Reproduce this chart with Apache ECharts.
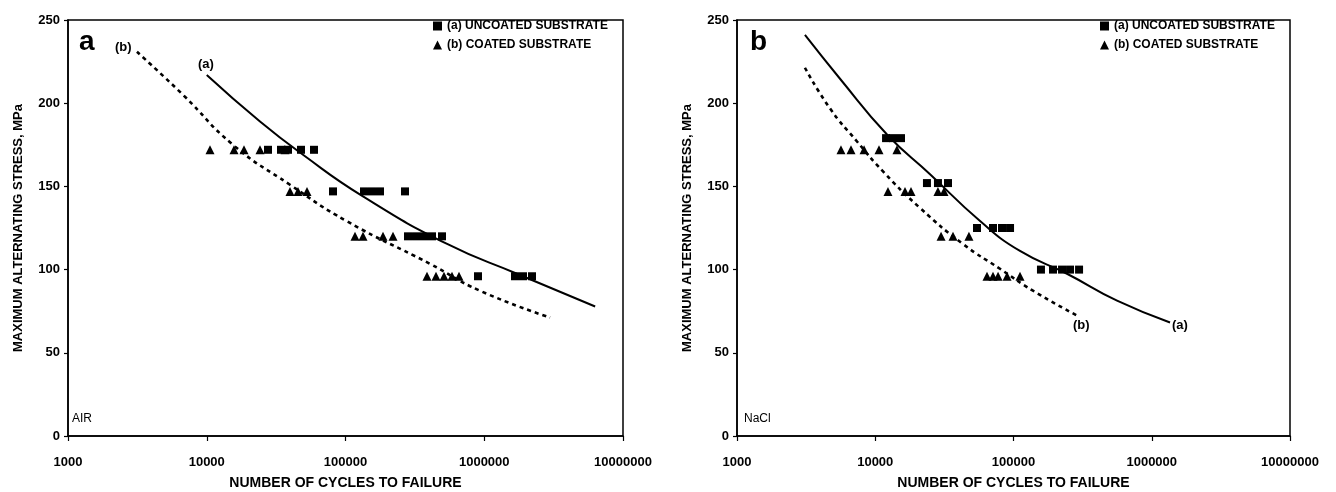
<!DOCTYPE html>
<html>
<head>
<meta charset="utf-8">
<script src="https://cdn.jsdelivr.net/npm/echarts@6/dist/echarts.min.js"></script>
<style>
html,body{margin:0;padding:0;background:#fff;}
#chart{width:1336px;height:492px;}
</style>
</head>
<body>
<div id="chart"></div>
<script>
// ---- Tick labels / axis ranges ----
const yTicks = [0, 50, 100, 150, 200, 250];
const xTicks = [1000, 10000, 100000, 1000000, 10000000];

// ---- Panel a (AIR) ----
const airUncoatedN = [27630, 34290, 38510, 47780, 59290,
                      81270, 135900, 155200, 177300, 268500,
                      282200, 322300, 367900, 420200, 496000,
                      901500, 1666000, 1902000, 2209000];
const airUncoatedS = [172, 172, 172, 172, 172,
                      147, 147, 147, 147, 147,
                      120, 120, 120, 120, 120,
                      96, 96, 96, 96];
const airCoatedN = [10550, 15720, 18560, 24200, 36640,
                    39810, 45470, 52790,
                    117100, 133700, 186400, 219900,
                    386700, 449100, 512800, 585600, 657700];
const airCoatedS = [172, 172, 172, 172, 172,
                    147, 147, 147,
                    120, 120, 120, 120,
                    96, 96, 96, 96, 96];
// fitted curves
const airCurveAN = [10000, 24200, 49400, 133600, 540000, 1720000, 6300000];
const airCurveAS = [217, 189, 169, 144, 115.4, 97.5, 77.8];
const airCurveBN = [3140, 6750, 15450, 39800, 102600, 406000, 931000, 2980000];
const airCurveBS = [230.9, 205, 175, 151, 129, 103.5, 87.3, 71.2];

// ---- Panel b (NaCl) ----
const naclUncoatedN = [11970, 13440, 15350,
                       23660, 28420, 33600,
                       54450, 71100, 82600, 94400,
                       158000, 193100, 224400, 256400, 298000];
const naclUncoatedS = [179, 179, 179,
                       152, 152, 152,
                       125, 125, 125, 125,
                       100, 100, 100, 100, 100];
const naclCoatedN = [5650, 6680, 8300, 10650, 14350,
                     12360, 16410, 18140, 28420, 31420,
                     29930, 36500, 47600,
                     64300, 71100, 77300, 89800, 111400];
const naclCoatedS = [172, 172, 172, 172, 172,
                     147, 147, 147, 147, 147,
                     120, 120, 120,
                     96, 96, 96, 96, 96];
const naclCurveAN = [3100, 5560, 12160, 24900, 57300, 111400, 243800, 561000, 1356000];
const naclCurveAS = [241, 214.7, 181.2, 157.3, 129.2, 111.2, 97.5, 81.3, 68.2];
const naclCurveBN = [3100, 4710, 7380, 11380, 21100, 43100, 79800, 138400, 287700];
const naclCurveBS = [221.3, 196.8, 177, 159, 137, 115.4, 100.5, 87.3, 72.4];

const seriesNames = ['(a) UNCOATED SUBSTRATE', '(b) COATED SUBSTRATE'];

function zip(a, b) { return a.map((v, i) => [v, b[i]]); }

const chart = echarts.init(document.getElementById('chart'), null, {renderer: 'canvas'});

function xAxisDef(gi) {
  return {
    gridIndex: gi, type: 'log', logBase: 10,
    min: xTicks[0], max: xTicks[xTicks.length - 1],
    name: 'NUMBER OF CYCLES TO FAILURE', nameLocation: 'middle', nameGap: 40,
    nameTextStyle: {fontFamily: 'Liberation Sans', fontSize: 14, fontWeight: 'bold', color: '#000'},
    axisLine: {show: true, lineStyle: {color: '#000', width: 1.5}},
    axisTick: {show: true, length: 5, lineStyle: {color: '#000', width: 1.2}},
    axisLabel: {margin: 20, fontFamily: 'Liberation Sans', fontSize: 13, fontWeight: 'bold', color: '#000',
                formatter: v => String(Math.round(v))},
    splitLine: {show: false}, minorTick: {show: false}
  };
}
function yAxisDef(gi) {
  return {
    gridIndex: gi, type: 'value', min: yTicks[0], max: yTicks[yTicks.length - 1], interval: 50,
    name: 'MAXIMUM ALTERNATING STRESS, MPa', nameLocation: 'middle', nameGap: 43,
    nameTextStyle: {fontFamily: 'Liberation Sans', fontSize: 13, fontWeight: 'bold', color: '#000'},
    axisLine: {show: true, lineStyle: {color: '#000', width: 1.5}},
    axisTick: {show: true, length: 4, lineStyle: {color: '#000', width: 1.2}},
    axisLabel: {margin: 8, fontFamily: 'Liberation Sans', fontSize: 13, fontWeight: 'bold', color: '#000'},
    splitLine: {show: false}
  };
}
function scatter(name, gi, data, sym, size) {
  return {name, type: 'scatter', xAxisIndex: gi, yAxisIndex: gi, data, symbol: sym, symbolSize: size,
          itemStyle: {color: '#000', opacity: 1}, z: 5, animation: false};
}
function curve(name, gi, data, dashed) {
  return {name, type: 'line', xAxisIndex: gi, yAxisIndex: gi, data, smooth: true, showSymbol: false,
          symbol: 'none', lineStyle: {color: '#000', width: dashed ? 2.6 : 2, type: dashed ? [4, 4] : 'solid'},
          z: 3, animation: false, silent: true};
}
function legendDef(left) {
  return {
    left, top: 15, orient: 'vertical', itemGap: 7, itemWidth: 9, itemHeight: 9,
    textStyle: {fontFamily: 'Liberation Sans', fontSize: 12, fontWeight: 'bold', color: '#000'},
    data: [{name: seriesNames[0], icon: 'rect'}, {name: seriesNames[1], icon: 'triangle'}],
    selectedMode: false
  };
}
function txt(text, x, y, size, weight) {
  return {type: 'text', x, y, style: {text, fill: '#000', font: (weight || 'bold') + ' ' + size + 'px "Liberation Sans"',
          textVerticalAlign: 'middle', textAlign: 'left'}, z: 10};
}

chart.setOption({
  animation: false,
  backgroundColor: '#fff',
  grid: [
    {left: 68, top: 20, width: 555, height: 416, show: true, borderColor: '#000', borderWidth: 1.5,
     backgroundColor: 'transparent', containLabel: false, outerBoundsMode: 'none'},
    {left: 737, top: 20, width: 553, height: 416, show: true, borderColor: '#000', borderWidth: 1.5,
     backgroundColor: 'transparent', containLabel: false, outerBoundsMode: 'none'}
  ],
  xAxis: [xAxisDef(0), xAxisDef(1)],
  yAxis: [yAxisDef(0), yAxisDef(1)],
  legend: [legendDef(428), legendDef(1095)],
  series: [
    curve('air-fit-a', 0, zip(airCurveAN, airCurveAS), false),
    curve('air-fit-b', 0, zip(airCurveBN, airCurveBS), true),
    scatter(seriesNames[0], 0, zip(airUncoatedN, airUncoatedS), 'rect', 8),
    scatter(seriesNames[1], 0, zip(airCoatedN, airCoatedS), 'triangle', 9),
    curve('nacl-fit-a', 1, zip(naclCurveAN, naclCurveAS), false),
    curve('nacl-fit-b', 1, zip(naclCurveBN, naclCurveBS), true),
    scatter(seriesNames[0], 1, zip(naclUncoatedN, naclUncoatedS), 'rect', 8),
    scatter(seriesNames[1], 1, zip(naclCoatedN, naclCoatedS), 'triangle', 9)
  ],
  graphic: [
    txt('a', 79, 42, 28),
    txt('b', 750, 42, 28),
    txt('(b)', 115, 47, 13),
    txt('(a)', 198, 64, 13),
    txt('(a)', 1172, 325, 13),
    txt('(b)', 1073, 325, 13),
    txt('AIR', 72, 419, 12, 'normal'),
    txt('NaCl', 744, 419, 12, 'normal')
  ]
});
</script>
</body>
</html>
